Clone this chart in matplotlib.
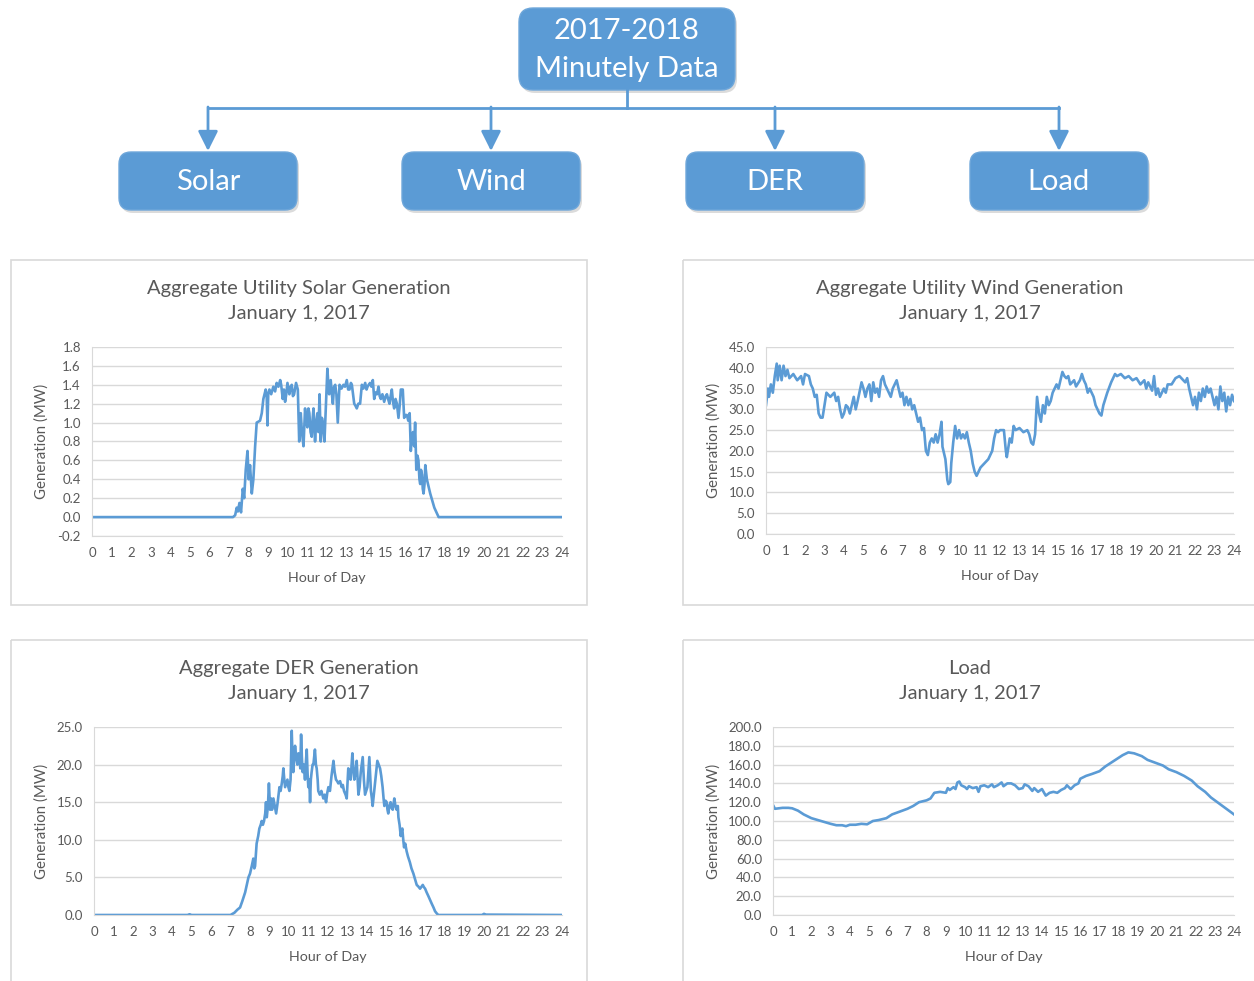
import matplotlib.pyplot as plt
from matplotlib.patches import FancyBboxPatch, Rectangle, FancyArrowPatch

W, H = 1254, 981
BLUE = '#5B9BD5'
TXT = '#595959'
GRID = '#D9D9D9'

plt.rcParams['font.family'] = ['Lato', 'DejaVu Sans']

# (hour, MW) readings for January 1, 2017
solar = [(0, 0.0), (7.2, 0.0), (7.31, 0.02), (7.39, 0.1), (7.45, 0.06), (7.53, 0.15), (7.61, 0.05), (7.7, 0.3),
         (7.77, 0.2), (7.85, 0.5), (7.94, 0.7), (8.0, 0.4), (8.07, 0.55), (8.16, 0.25), (8.24, 0.4), (8.33, 0.75),
         (8.41, 1.0), (8.58, 1.02), (8.67, 1.1), (8.75, 1.25), (8.87, 1.35), (8.92, 1.28), (8.96, 0.97), (9.0, 1.3),
         (9.06, 1.35), (9.15, 1.3), (9.26, 1.38), (9.35, 1.33), (9.43, 1.42), (9.52, 1.38), (9.61, 1.45),
         (9.66, 1.4), (9.74, 1.25), (9.8, 1.35), (9.86, 1.22), (9.92, 1.3), (9.98, 1.42), (10.08, 1.3),
         (10.14, 1.38), (10.2, 1.4), (10.26, 1.28), (10.32, 1.3), (10.42, 1.42), (10.51, 1.35), (10.58, 0.8),
         (10.66, 1.1), (10.72, 0.9), (10.8, 0.75), (10.88, 1.15), (10.94, 1.0), (11.0, 0.95), (11.05, 1.15),
         (11.1, 1.1), (11.16, 0.9), (11.22, 0.85), (11.27, 1.05), (11.31, 1.15), (11.39, 0.8), (11.45, 1.0),
         (11.51, 1.1), (11.56, 0.9), (11.62, 1.3), (11.68, 0.8), (11.74, 1.05), (11.79, 1.0), (11.87, 0.8),
         (11.96, 1.25), (12.02, 1.57), (12.07, 1.4), (12.11, 1.3), (12.15, 1.42), (12.19, 1.45), (12.25, 1.3),
         (12.3, 1.2), (12.36, 1.38), (12.42, 1.4), (12.48, 1.3), (12.55, 1.0), (12.64, 1.4), (12.74, 1.36),
         (12.84, 1.4), (12.92, 1.38), (13.01, 1.45), (13.08, 1.35), (13.15, 1.35), (13.22, 1.42), (13.27, 1.4),
         (13.33, 1.3), (13.39, 1.2), (13.45, 1.18), (13.52, 1.15), (13.6, 1.2), (13.69, 1.2), (13.78, 1.4),
         (13.86, 1.36), (13.95, 1.42), (14.02, 1.35), (14.07, 1.38), (14.13, 1.4), (14.2, 1.42), (14.27, 1.38),
         (14.34, 1.45), (14.41, 1.25), (14.48, 1.32), (14.55, 1.3), (14.63, 1.38), (14.69, 1.28), (14.75, 1.25),
         (14.83, 1.3), (14.92, 1.22), (15.0, 1.28), (15.06, 1.3), (15.12, 1.25), (15.19, 1.2), (15.25, 1.28),
         (15.31, 1.35), (15.37, 1.22), (15.43, 1.15), (15.5, 1.25), (15.57, 1.2), (15.65, 1.05), (15.72, 1.2),
         (15.77, 1.35), (15.87, 1.35), (15.94, 1.05), (16.0, 1.08), (16.08, 1.08), (16.15, 1.02), (16.22, 1.1),
         (16.28, 0.7), (16.33, 0.85), (16.39, 0.9), (16.45, 0.75), (16.5, 1.0), (16.56, 0.5), (16.62, 0.65),
         (16.67, 0.6), (16.72, 0.4), (16.76, 0.35), (16.8, 0.5), (16.85, 0.45), (16.89, 0.3), (16.93, 0.25),
         (16.98, 0.35), (17.02, 0.55), (17.1, 0.4), (17.27, 0.25), (17.48, 0.1), (17.7, 0.0), (24, 0.0)]

wind = [(0.0, 31), (0.1, 35), (0.15, 33), (0.25, 36), (0.35, 34), (0.45, 38), (0.55, 41), (0.6, 37), (0.7, 40.5),
        (0.8, 37), (0.9, 40.5), (1.0, 38), (1.1, 39.5), (1.2, 37.5), (1.4, 38.5), (1.6, 37), (1.8, 38), (1.9, 36),
        (2.0, 38.5), (2.2, 38), (2.3, 36), (2.4, 35), (2.5, 33), (2.6, 33.5), (2.7, 29), (2.8, 28), (2.9, 28),
        (3.0, 31), (3.1, 34), (3.3, 33), (3.5, 34), (3.6, 32), (3.7, 33), (3.8, 30), (3.9, 28), (4.0, 29),
        (4.1, 31), (4.2, 30.5), (4.3, 29), (4.4, 31), (4.5, 33), (4.6, 30), (4.7, 32), (4.9, 36.5), (5.0, 35),
        (5.1, 33), (5.2, 35), (5.3, 36), (5.4, 32), (5.5, 36.5), (5.6, 34), (5.7, 35), (5.8, 33), (5.9, 37),
        (6.0, 38), (6.1, 36), (6.2, 35), (6.3, 34), (6.4, 33), (6.5, 35), (6.6, 36), (6.7, 37), (6.8, 35),
        (6.9, 33), (7.0, 34), (7.1, 31), (7.2, 33), (7.3, 31), (7.4, 32.5), (7.5, 30), (7.6, 31), (7.7, 29),
        (7.8, 27), (7.9, 28), (8.0, 25), (8.1, 25.5), (8.2, 20), (8.3, 19), (8.4, 22), (8.5, 23), (8.6, 22),
        (8.7, 24), (8.8, 22), (8.9, 24), (9.0, 27), (9.05, 21), (9.1, 20), (9.2, 18), (9.3, 13), (9.35, 12),
        (9.45, 12.5), (9.5, 17), (9.6, 22), (9.7, 26), (9.8, 23), (9.9, 25), (10.0, 23), (10.1, 24), (10.2, 23),
        (10.3, 24.5), (10.4, 22), (10.5, 20), (10.6, 17), (10.7, 15), (10.8, 14), (10.9, 15), (11.0, 16),
        (11.2, 17), (11.4, 18), (11.6, 20), (11.7, 23), (11.8, 25), (11.9, 24.5), (12.0, 25), (12.2, 25),
        (12.3, 20), (12.35, 18.5), (12.5, 23), (12.6, 22), (12.7, 26), (12.8, 25), (13.0, 25.5), (13.2, 24.5),
        (13.4, 25), (13.5, 24), (13.6, 22), (13.7, 21.5), (13.8, 24), (13.9, 33), (14.0, 29), (14.1, 27),
        (14.2, 31), (14.3, 29), (14.4, 33), (14.5, 31), (14.6, 32), (14.7, 34), (14.8, 35), (14.9, 36),
        (15.0, 35), (15.1, 37), (15.2, 39), (15.3, 38), (15.4, 37.5), (15.5, 38), (15.6, 36), (15.8, 37),
        (15.9, 35.5), (16.1, 37), (16.2, 38.5), (16.3, 37), (16.4, 36), (16.5, 34), (16.6, 35), (16.8, 33),
        (16.9, 31), (17.1, 29), (17.2, 28.5), (17.3, 31), (17.5, 34), (17.7, 36.5), (17.9, 38.5), (18.0, 38),
        (18.2, 38.5), (18.4, 37.5), (18.6, 38), (18.8, 37), (19.0, 37.5), (19.2, 36), (19.4, 37), (19.5, 35),
        (19.6, 36.5), (19.8, 34.5), (19.9, 38), (20.0, 33.5), (20.1, 35), (20.2, 33), (20.4, 35), (20.5, 34),
        (20.6, 36), (20.8, 36), (21.0, 37.5), (21.2, 38), (21.4, 37), (21.5, 36.5), (21.6, 37.5), (21.7, 35),
        (21.8, 33), (21.9, 31), (22.0, 33), (22.1, 30), (22.2, 34), (22.3, 32), (22.4, 35), (22.5, 33),
        (22.6, 35.5), (22.7, 34), (22.8, 35), (22.9, 33), (23.0, 31), (23.1, 33), (23.2, 30), (23.3, 35.5),
        (23.4, 32), (23.5, 34), (23.6, 29.5), (23.7, 33), (23.8, 31), (23.9, 33.5), (24.0, 32)]

der = [(0, 0), (4.8, 0), (4.9, 0.1), (5.0, 0), (7.0, 0), (7.2, 0.3), (7.35, 0.7), (7.49, 1.0), (7.6, 1.8),
       (7.75, 3), (7.85, 4.2), (7.92, 5), (8.0, 5.5), (8.09, 6.5), (8.17, 7.5), (8.22, 6.2), (8.26, 6.5),
       (8.34, 9.5), (8.42, 10.5), (8.48, 11.5), (8.55, 12), (8.6, 12.5), (8.66, 12), (8.72, 12.5), (8.78, 13.5),
       (8.82, 15), (8.86, 13), (8.92, 14.5), (8.97, 17.5), (9.03, 14), (9.08, 15.5), (9.13, 14), (9.2, 15.5),
       (9.27, 14.5), (9.34, 13.5), (9.42, 15), (9.51, 17), (9.57, 16.5), (9.63, 17.5), (9.68, 18.5),
       (9.71, 19.5), (9.76, 18), (9.8, 17), (9.86, 17.5), (9.92, 18), (9.97, 17), (10.02, 16.5), (10.08, 18),
       (10.14, 24.5), (10.18, 21), (10.22, 19), (10.27, 21), (10.31, 22.5), (10.37, 21), (10.43, 20),
       (10.48, 21.5), (10.53, 21), (10.58, 19.5), (10.62, 24), (10.66, 21), (10.7, 19), (10.76, 20),
       (10.82, 18), (10.87, 20.5), (10.91, 22), (10.95, 19), (10.99, 17), (11.04, 18), (11.08, 15), (11.12, 18),
       (11.16, 19), (11.21, 20), (11.25, 20), (11.29, 21), (11.33, 22), (11.38, 20), (11.42, 19.5), (11.47, 18),
       (11.5, 16.5), (11.58, 16), (11.66, 16.5), (11.76, 15.5), (11.83, 16), (11.9, 15), (11.96, 16.2),
       (12.02, 17), (12.1, 16.5), (12.18, 18.5), (12.23, 19.5), (12.28, 20.5), (12.34, 19), (12.41, 18),
       (12.47, 17.8), (12.53, 17.5), (12.62, 17.8), (12.7, 17), (12.76, 17.3), (12.82, 16.5), (12.9, 16),
       (12.96, 15.5), (13.04, 19.5), (13.1, 18.5), (13.16, 18), (13.21, 20), (13.25, 21.5), (13.3, 19.5),
       (13.35, 18), (13.41, 19), (13.47, 20.5), (13.52, 18), (13.56, 16), (13.62, 17), (13.68, 19),
       (13.73, 20), (13.78, 21), (13.84, 18), (13.9, 16), (13.96, 16.5), (14.02, 17), (14.07, 19), (14.12, 21),
       (14.17, 18), (14.2, 16.5), (14.25, 15.5), (14.29, 14.5), (14.35, 16), (14.41, 17.5), (14.47, 19),
       (14.53, 20.5), (14.6, 20), (14.67, 19.5), (14.73, 18.5), (14.8, 17), (14.85, 15.5), (14.89, 14.5),
       (14.95, 15.2), (15.01, 15), (15.05, 14), (15.09, 13.5), (15.15, 14.5), (15.21, 15), (15.27, 14.2),
       (15.32, 14), (15.37, 15), (15.4, 15.5), (15.46, 14.5), (15.52, 14), (15.58, 14.5), (15.61, 13),
       (15.67, 12), (15.73, 10.5), (15.78, 11.2), (15.81, 11.5), (15.86, 10), (15.9, 9), (15.96, 9.5),
       (16.03, 8.5), (16.1, 7.8), (16.2, 7), (16.28, 6.2), (16.38, 5.5), (16.46, 4.8), (16.55, 4), (16.63, 3.8),
       (16.72, 3.5), (16.8, 3.8), (16.86, 4), (16.92, 3.7), (16.98, 3.5), (17.06, 3), (17.15, 2.5),
       (17.25, 1.9), (17.32, 1.5), (17.41, 1.0), (17.49, 0.5), (17.58, 0.2), (17.66, 0), (19.9, 0),
       (20.0, 0.15), (20.1, 0.05), (24, 0)]

load = [(0.0, 117), (0.1, 113), (0.3, 113.5), (0.5, 114), (0.8, 114), (1.0, 113.5), (1.3, 111), (1.6, 107),
        (2.0, 103), (2.5, 100), (3.0, 97), (3.3, 95.5), (3.6, 95.5), (3.8, 94.5), (4.0, 96), (4.3, 96),
        (4.6, 97), (4.9, 96.5), (5.2, 100), (5.5, 101), (5.9, 103), (6.2, 107), (6.6, 110), (7.0, 113),
        (7.3, 116), (7.6, 120), (8.0, 122), (8.2, 124), (8.4, 130), (8.7, 131), (9.0, 130), (9.1, 135),
        (9.2, 133), (9.4, 136), (9.5, 134), (9.6, 141), (9.7, 142), (9.8, 138), (10.0, 136), (10.1, 134),
        (10.2, 137), (10.4, 135), (10.6, 136), (10.7, 131), (10.8, 137), (11.0, 138), (11.2, 136), (11.4, 139),
        (11.5, 136), (11.7, 138), (11.9, 141), (12.0, 137), (12.2, 140), (12.4, 140), (12.6, 138), (12.8, 134),
        (13.0, 135), (13.1, 139), (13.3, 137), (13.5, 132), (13.6, 135), (13.8, 131), (14.0, 134), (14.2, 127),
        (14.4, 130), (14.6, 131), (14.8, 130), (15.0, 133), (15.2, 135), (15.3, 138), (15.5, 134), (15.7, 138),
        (15.9, 140), (16.0, 145), (16.3, 148), (16.6, 150), (17.0, 153), (17.3, 158), (17.6, 162), (17.9, 166),
        (18.2, 170), (18.5, 173), (18.8, 172), (19.2, 169), (19.5, 165), (19.9, 162), (20.3, 159), (20.6, 155),
        (21.0, 152), (21.4, 148), (21.8, 143), (22.1, 137), (22.5, 131), (22.8, 125), (23.2, 119), (23.6, 113),
        (24.0, 107)]

categories = ['Solar', 'Wind', 'DER', 'Load']
top_label = '2017-2018\nMinutely Data'


def fx(px):
    return px / W


def fy(py):
    return 1 - py / H


fig = plt.figure(figsize=(W / 100, H / 100), dpi=100)
bg = fig.add_axes([0, 0, 1, 1])
bg.set_xlim(0, W)
bg.set_ylim(H, 0)
bg.axis('off')


def box(x0, y0, w, h, r, text, size):
    # soft drop shadow then the blue rounded box
    sh = FancyBboxPatch((x0 + r + 2, y0 + r + 3), w - 2 * r, h - 2 * r, boxstyle='round,pad=%d' % r,
                        fc='#B0B0B0', ec='none', alpha=0.45)
    bg.add_patch(sh)
    b = FancyBboxPatch((x0 + r, y0 + r), w - 2 * r, h - 2 * r, boxstyle='round,pad=%d' % r,
                       fc=BLUE, ec='#6FA7DA', lw=1)
    bg.add_patch(b)
    bg.text(x0 + w / 2, y0 + h / 2 + 1, text, ha='center', va='center', color='white',
            fontsize=size, linespacing=1.58)


box(519, 8, 216, 82, 14, top_label, 21)
bg.plot([627, 627], [90, 108], color=BLUE, lw=2)
bg.plot([208, 1059], [108, 108], color=BLUE, lw=2)
child_x = [208, 491, 775, 1059]
for cx, name in zip(child_x, categories):
    bg.add_patch(FancyArrowPatch((cx, 107), (cx, 151), arrowstyle='-|>,head_length=0.6,head_width=0.3',
                                 mutation_scale=20, color=BLUE, lw=2, shrinkA=0, shrinkB=0))
    box(cx - 89, 152, 178, 58, 12, name, 21)

# panel frames
for (x0, y0, x1, y1) in [(11, 260, 587, 605), (683, 260, 1262, 605), (11, 640, 587, 990), (683, 640, 1262, 990)]:
    bg.add_patch(Rectangle((x0, y0), x1 - x0, y1 - y0, fc='none', ec=GRID, lw=1.2))


def chart(series, left, right, top, bottom, ymin, ymax, ystep, title, cx, title_y, ylab_x):
    ax = fig.add_axes([fx(left), fy(bottom), fx(right - left), (bottom - top) / H])
    hrs = [p[0] for p in series]
    vals = [p[1] for p in series]
    ax.plot(hrs, vals, color=BLUE, lw=1.9, solid_joinstyle='round')
    ax.set_xlim(0, 24)
    ax.set_ylim(ymin, ymax)
    ax.set_xticks(range(25))
    n = int(round((ymax - ymin) / ystep))
    ticks = [ymin + i * ystep for i in range(n + 1)]
    ax.set_yticks(ticks)
    ax.set_yticklabels(['%.1f' % (0.0 if abs(t) < 1e-9 else t) for t in ticks])
    ax.grid(axis='y', color=GRID, lw=1)
    ax.set_axisbelow(True)
    ax.tick_params(length=0, labelsize=9.5, labelcolor=TXT, pad=8)
    for s in ['top', 'right']:
        ax.spines[s].set_visible(False)
    for s in ['left', 'bottom']:
        ax.spines[s].set_color(GRID)
    ax.patch.set_alpha(0)
    fig.text(fx(cx), fy(title_y), title, ha='center', va='center', color=TXT, fontsize=14.5,
             linespacing=1.6)
    fig.text(fx((left + right) / 2), fy(bottom + 42), 'Hour of Day', ha='center', va='center',
             color=TXT, fontsize=10.3)
    fig.text(fx(ylab_x), fy((top + bottom) / 2), 'Generation (MW)', ha='center', va='center',
             rotation=90, color=TXT, fontsize=10.8)
    return ax


chart(solar, 92, 562, 347, 536, -0.2, 1.8, 0.2,
      'Aggregate Utility Solar Generation\nJanuary 1, 2017', 299, 301, 42)
chart(wind, 766, 1234, 347, 534, 0, 45, 5,
      'Aggregate Utility Wind Generation\nJanuary 1, 2017', 970, 301, 714)
chart(der, 94, 562, 727, 915, 0, 25, 5,
      'Aggregate DER Generation\nJanuary 1, 2017', 299, 681, 42)
chart(load, 773, 1234, 727, 915, 0, 200, 20,
      'Load\nJanuary 1, 2017', 970, 681, 714)

fig.savefig('out.png', dpi=100, facecolor='white')
